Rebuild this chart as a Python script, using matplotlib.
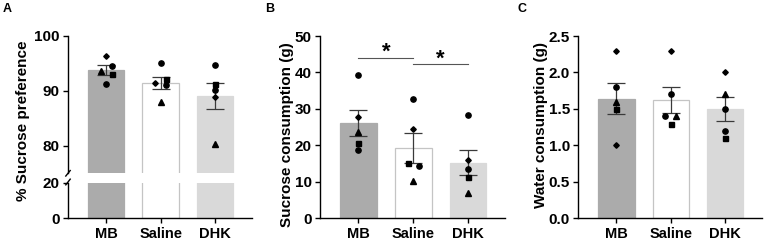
import numpy as np
import matplotlib
matplotlib.use("Agg")
from matplotlib import pyplot as plt

plt.rcParams["font.family"] = ["Liberation Sans", "DejaVu Sans"]
plt.rcParams["font.weight"] = "bold"

groups = ["MB", "Saline", "DHK"]
bar_colors = ["#ababab", "#ffffff", "#d9d9d9"]
edge_colors = ["#ababab", "#c4c4c4", "#d9d9d9"]

# marker shape for every animal, same order in every group
shapes = [["D", "^", "o", "s", "o"],
          ["o", "D", "s", "o", "^"],
          ["o", "s", "o", "D", "^"]]

# A: % sucrose preference
pref_vals = [[96.4, 93.6, 94.5, 93.1, 91.2],
             [95.0, 91.4, 92.2, 91.0, 87.9],
             [94.8, 91.2, 90.1, 88.9, 80.4]]
pref_mean = [93.8, 91.5, 89.1]
pref_sem = [0.9, 1.1, 2.4]
pref_jit = [[0, -0.1, 0.1, 0.1, 0],
            [0, -0.1, 0.1, 0.1, 0],
            [0, 0, 0, 0, 0]]

# B: sucrose consumption (g)
suc_shapes = [["o", "D", "^", "s", "o"],
              ["o", "D", "s", "o", "^"],
              ["o", "D", "o", "s", "^"]]
suc_vals = [[39.4, 27.8, 23.7, 20.7, 18.8],
            [32.7, 24.6, 15.3, 14.3, 10.3],
            [28.4, 16.0, 13.6, 11.4, 7.0]]
suc_mean = [26.1, 19.4, 15.3]
suc_sem = [3.6, 4.1, 3.5]
suc_jit = [[0, 0, 0, 0, 0],
           [0, 0, -0.09, 0.1, 0],
           [0, 0, 0, 0, 0]]

# C: water consumption (g)
wat_shapes = [["D", "o", "^", "s", "D"],
              ["D", "o", "o", "^", "s"],
              ["D", "^", "o", "o", "s"]]
wat_vals = [[2.3, 1.8, 1.6, 1.5, 1.0],
            [2.3, 1.7, 1.4, 1.4, 1.3],
            [2.0, 1.7, 1.5, 1.2, 1.1]]
wat_mean = [1.64, 1.62, 1.50]
wat_sem = [0.21, 0.18, 0.17]
wat_jit = [[0, 0, 0, 0, 0],
           [0, 0, -0.1, 0.1, 0],
           [0, 0, 0, 0, 0]]

msize = {"o": 3.8, "s": 3.6, "^": 4.0, "D": 2.8}


def draw_group(ax, means, sems, vals, jit, marks):
    x = np.arange(len(groups))
    ax.bar(x, means, width=0.667, color=bar_colors, edgecolor=edge_colors,
           linewidth=0.9, zorder=1)
    ax.errorbar(x, means, yerr=sems, fmt="none", ecolor="#3a3a3a",
                elinewidth=0.9, capsize=6.5, capthick=0.9, zorder=2)
    for i in range(len(groups)):
        for v, j, m in zip(vals[i], jit[i], marks[i]):
            ax.plot(i + j, v, marker=m, color="black", markersize=msize[m],
                    linestyle="none", zorder=3)
    ax.set_xlim(-0.7, 2.67)


def style(ax, xlabels=True):
    for s in ["top", "right"]:
        ax.spines[s].set_visible(False)
    for s in ["left", "bottom"]:
        ax.spines[s].set_linewidth(1.0)
    ax.tick_params(width=1.0, length=3.5, labelsize=11, pad=2.5)
    ax.tick_params(axis="x", pad=3, labelsize=10.5)
    ax.set_xticks(range(3))
    if xlabels:
        ax.set_xticklabels(groups, fontweight="bold")
    for t in ax.get_yticklabels():
        t.set_fontweight("bold")


fig = plt.figure(figsize=(7.64, 2.42), dpi=100)

# panel A with broken axis
axA1 = fig.add_axes([0.0890, 0.2839, 0.2404, 0.5674])
axA2 = fig.add_axes([0.0890, 0.0979, 0.2404, 0.1471])
draw_group(axA1, pref_mean, pref_sem, pref_vals, pref_jit, shapes)
draw_group(axA2, pref_mean, pref_sem, pref_vals, pref_jit, shapes)
axA1.set_ylim(75, 100)
axA1.set_yticks([80, 90, 100])
axA2.set_ylim(0, 20)
axA2.set_yticks([0, 20])
style(axA1, xlabels=False)
style(axA2)
axA1.spines["bottom"].set_visible(False)
axA1.tick_params(axis="x", bottom=False, labelbottom=False)
axA1.plot([-0.012, 0.012], [-0.02, 0.02], transform=axA1.transAxes,
          color="black", lw=1.0, clip_on=False)
axA2.plot([-0.012, 0.012], [0.94, 1.1], transform=axA2.transAxes,
          color="black", lw=1.0, clip_on=False)

# panel B
axB = fig.add_axes([0.4188, 0.0979, 0.2421, 0.7533])
draw_group(axB, suc_mean, suc_sem, suc_vals, suc_jit, suc_shapes)
axB.set_ylim(0, 50)
axB.set_yticks([0, 10, 20, 30, 40, 50])
style(axB)
axB.plot([0, 1], [44.1, 44.1], color="#555555", lw=0.8)
axB.plot([1, 2], [42.2, 42.2], color="#555555", lw=0.8)
axB.text(0.5, 44.0, "*", ha="center", va="baseline", fontsize=16, fontweight="bold")
axB.text(1.5, 42.1, "*", ha="center", va="baseline", fontsize=16, fontweight="bold")

# panel C
axC = fig.add_axes([0.7569, 0.0979, 0.2401, 0.7533])
draw_group(axC, wat_mean, wat_sem, wat_vals, wat_jit, wat_shapes)
axC.set_ylim(0, 2.5)
axC.set_yticks([0, 0.5, 1.0, 1.5, 2.0, 2.5])
axC.set_yticklabels(["0.0", "0.5", "1.0", "1.5", "2.0", "2.5"])
style(axC)

fig.text(23.3 / 764, 1 - 121 / 242, "% Sucrose preference", rotation=90,
         ha="center", va="center", fontsize=11, fontweight="bold")
fig.text(287.3 / 764, 1 - 135 / 242, "Sucrose consumption (g)", rotation=90,
         ha="center", va="center", fontsize=11, fontweight="bold")
fig.text(540.5 / 764, 1 - 124.5 / 242, "Water consumption (g)", rotation=90,
         ha="center", va="center", fontsize=11, fontweight="bold")

for lab, x in [("A", 6.7), ("B", 270), ("C", 521.7)]:
    fig.text(x / 764, 1 - 8.5 / 242, lab, ha="center", va="center",
             fontsize=9, fontweight="bold")

fig.savefig("out.png", dpi=100)
